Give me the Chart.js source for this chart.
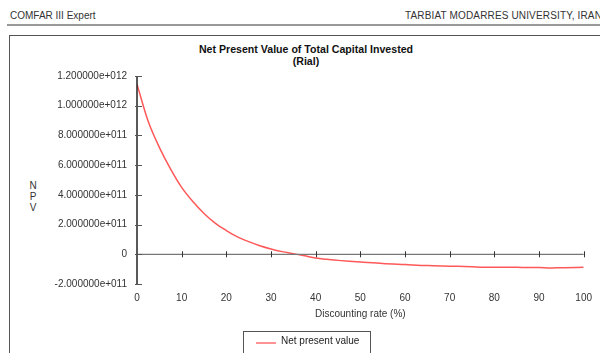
<!DOCTYPE html>
<html>
<head>
<meta charset="utf-8">
<script src="https://cdn.jsdelivr.net/npm/chart.js@4"></script>
<style>
  body { margin: 0; background: #fff; font-family: "Liberation Sans", Arial, sans-serif; }
  #wrap { position: relative; width: 600px; height: 353px; overflow: hidden; }
  #chart { position: absolute; left: 0; top: 0; }
  .hdr { position: absolute; top: 10px; font-size: 10px; color: #333; white-space: nowrap; }
  #rule { position: absolute; left: 7px; top: 24px; width: 600px; height: 2px; background: #999; }
  #frame { position: absolute; left: 9px; top: 35px; width: 620px; height: 340px; border: 1.5px solid #555; }
  #title { position: absolute; left: 106px; width: 400px; top: 43px; text-align: center; font-size: 10.6px; font-weight: bold; color: #111; line-height: 12px; }
  #ylab { position: absolute; left: 28px; top: 180px; width: 10px; text-align: center; font-size: 10px; color: #333; line-height: 11px; }
  #legend { position: absolute; left: 243px; top: 331px; width: 126px; height: 40px; border: 1px solid #555; font-size: 10px; color: #222; }
  #legend .sw { position: absolute; left: 12px; top: 10px; width: 20px; height: 1.5px; }
  #legend .tx { position: absolute; left: 37px; top: 3px; }
</style>
</head>
<body>
<div id="wrap">
  <div class="hdr" style="left:10px">COMFAR III Expert</div>
  <div class="hdr" style="left:405px; letter-spacing:0.15px">TARBIAT MODARRES UNIVERSITY, IRAN</div>
  <div id="rule"></div>
  <div id="frame"></div>
  <div id="title">Net Present Value of Total Capital Invested<br>(Rial)</div>
  <div id="ylab">N<br>P<br>V</div>
  <canvas id="chart" width="600" height="353"></canvas>
  <div id="legend"><div class="sw"></div><div class="tx"></div></div>
</div>
<script>
// --- data ---
const rates = [0, 2.5, 5, 7.5, 10, 12.5, 15, 17.5, 20, 22.5, 25, 27.5, 30, 32.5, 35, 37.5, 40,
               42.5, 45, 47.5, 50, 55, 60, 65, 70, 75, 77.5, 80, 85, 90, 92.5, 95, 100];
const npv = [1.145e12, 8.95e11, 7.2e11, 5.75e11, 4.5e11, 3.55e11, 2.75e11, 2.1e11, 1.6e11, 1.17e11,
             8.5e10, 5.8e10, 3.6e10, 1.8e10, 4e9, -1e10, -2.5e10,
             -3.4e10, -4.1e10, -4.7e10, -5.2e10, -6.2e10, -6.9e10, -7.6e10, -8e10, -8.4e10, -8.7e10,
             -8.7e10, -8.8e10, -8.9e10, -9.3e10, -9.0e10, -8.8e10];
const xTicks = [0, 10, 20, 30, 40, 50, 60, 70, 80, 90, 100];
const yTicks = [-2e11, 0, 2e11, 4e11, 6e11, 8e11, 1e12, 1.2e12];
const seriesLabel = 'Net present value';
const lineColor = 'rgba(255, 70, 70, 0.9)';

// legend swatch
document.querySelector('#legend .sw').style.background = 'rgba(255, 120, 120, 0.8)';
document.querySelector('#legend .tx').textContent = seriesLabel;

// "1.200000e+012" style labels
function sciLabel(v) {
    if (v === 0) return '0';
    const exp = Math.floor(Math.log10(Math.abs(v)) + 1e-9);
    const mant = v / Math.pow(10, exp);
    const e = (exp < 0 ? '-' : '+') + String(Math.abs(exp)).padStart(3, '0');
    return mant.toFixed(6) + 'e' + e;
}

// axes drawn like the original: y axis at x=0, x axis along the zero line, ticks crossing
const axisPlugin = {
    id: 'axisLines',
    afterDatasetsDraw(chart) {
        const { ctx, scales: { x, y } } = chart;
        const x0 = x.getPixelForValue(0);
        const x1 = x.getPixelForValue(100);
        const yz = y.getPixelForValue(0);
        ctx.save();
        // zero line
        ctx.strokeStyle = '#777';
        ctx.lineWidth = 1.2;
        ctx.beginPath();
        ctx.moveTo(x0, yz); ctx.lineTo(x1, yz);
        ctx.stroke();
        ctx.strokeStyle = '#333';
        ctx.lineWidth = 1;
        xTicks.forEach(t => {
            if (t === 0) return;
            const px = Math.round(x.getPixelForValue(t)) + 0.5;
            ctx.beginPath();
            ctx.moveTo(px, yz - 3); ctx.lineTo(px, yz + 3);
            ctx.stroke();
        });
        // y axis
        ctx.strokeStyle = '#222';
        ctx.lineWidth = 1.5;
        ctx.beginPath();
        ctx.moveTo(x0, y.getPixelForValue(1.2e12)); ctx.lineTo(x0, y.getPixelForValue(-2e11));
        ctx.stroke();
        ctx.strokeStyle = '#555';
        ctx.lineWidth = 1;
        yTicks.forEach(t => {
            const py = Math.round(y.getPixelForValue(t)) + 0.5;
            ctx.beginPath();
            ctx.moveTo(x0 - 2, py); ctx.lineTo(x0 + 5, py);
            ctx.stroke();
        });
        ctx.restore();
    }
};

new Chart(document.getElementById('chart'), {
    type: 'line',
    data: {
        datasets: [{
            label: seriesLabel,
            data: rates.map((r, i) => ({ x: r, y: npv[i] })),
            borderColor: lineColor,
            borderWidth: 1.5,
            pointRadius: 0,
            cubicInterpolationMode: 'monotone',
            fill: false
        }]
    },
    options: {
        responsive: false,
        animation: false,
        layout: { padding: { left: 0, top: 76, right: 15, bottom: 0 } },
        plugins: { legend: { display: false }, tooltip: { enabled: false }, title: { display: false } },
        scales: {
            x: {
                type: 'linear',
                min: 0, max: 100,
                grid: { display: false, drawTicks: false },
                border: { display: false },
                afterFit: s => { s.height = 69; },
                afterBuildTicks: s => { s.ticks = xTicks.map(v => ({ value: v })); },
                ticks: { padding: 8, maxRotation: 0, color: '#333', font: { family: 'Liberation Sans', size: 10 } },
                title: { display: true, text: 'Discounting rate (%)', color: '#333',
                         font: { family: 'Liberation Sans', size: 10 }, padding: { top: 4, bottom: 33 } }
            },
            y: {
                min: -2e11, max: 1.2e12,
                grid: { display: false, drawTicks: false },
                border: { display: false },
                afterFit: s => { s.width = 137; },
                afterBuildTicks: s => { s.ticks = yTicks.map(v => ({ value: v })); },
                ticks: { padding: 10, color: '#333', font: { family: 'Liberation Sans', size: 10 },
                         callback: v => sciLabel(v) }
            }
        }
    },
    plugins: [axisPlugin]
});
</script>
</body>
</html>
